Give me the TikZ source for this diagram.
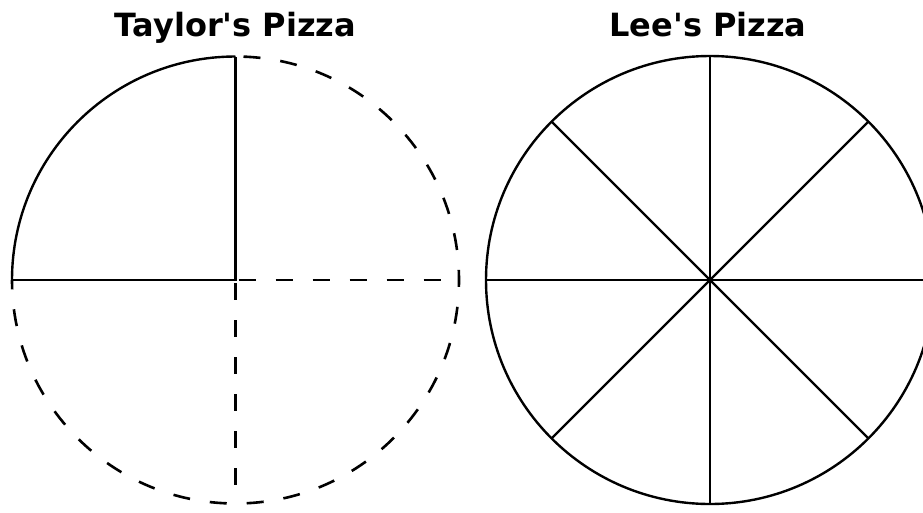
\documentclass[tikz,border=0pt]{standalone}
\usepackage{fontspec}
\setmainfont{DejaVu Sans}[Ligatures=TeXOff]
\begin{document}
\begin{tikzpicture}[x=1pt,y=-1pt,
  solidline/.style={line width=2.4pt},
  dashline/.style={line width=2.6pt, dash pattern=on 17pt off 20pt},
  title/.style={font=\bfseries\fontsize{32}{36}\selectfont, anchor=base, inner sep=0pt}]
\useasboundingbox (0,0) rectangle (923,512);
\clip (0,0) rectangle (923,512);
\fill[white] (0,0) rectangle (923,512);
% Taylor's pizza
\coordinate (tc) at (235.5,280);
\coordinate (ttop) at (235.5,56.5);
\coordinate (tleft) at (12,280);
\coordinate (tright) at (459,280);
\coordinate (tbot) at (235.5,503.5);
\node[title] (ttitle) at (235.5,36) {Taylor's Pizza};
\draw[solidline] (ttop) arc[start angle=-90, end angle=-180, radius=223.5];
\draw[solidline] (tleft) -- (tc) -- (ttop);
\draw[dashline, dash phase=-8pt] (ttop) arc[start angle=-90, end angle=180, radius=223.5];
\draw[dashline, dash phase=-3pt] (tc) -- (tright);
\draw[dashline, dash phase=-3pt] (tc) -- (tbot);
% Lee's pizza
\coordinate (lc) at (710,280);
\node[title] (ltitle) at (708,36) {Lee's Pizza};
\draw[solidline] (lc) circle[radius=224];
\foreach \a in {0,45,...,315}{
  \draw[solidline] (lc) -- ++(\a:224);
}
\end{tikzpicture}
\end{document}
